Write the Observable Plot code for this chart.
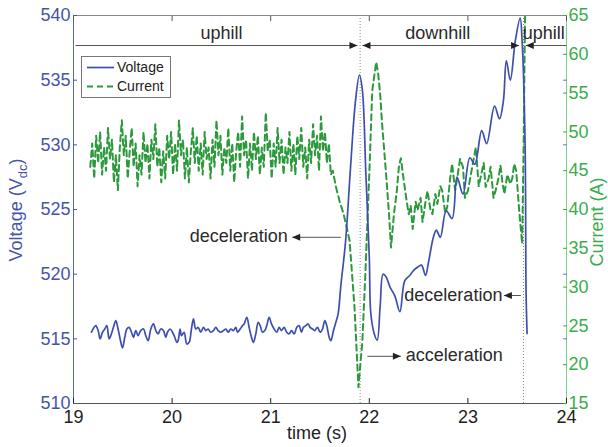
<!DOCTYPE html>
<html><head><meta charset="utf-8">
<script src="https://cdn.jsdelivr.net/npm/d3@7"></script>
<script src="https://cdn.jsdelivr.net/npm/@observablehq/plot@0.6"></script>
<style>
body{margin:0;background:#fff;font-family:"Liberation Sans",Arial,sans-serif;}
#wrap{position:relative;width:608px;height:447px;overflow:hidden;}
.rot{position:absolute;white-space:nowrap;transform:translate(-50%,-50%) rotate(-90deg);font-size:18px;}
#legend{position:absolute;left:81px;top:56px;width:88px;height:40px;border:1px solid #777;background:#fff;font-size:14px;color:#222;}
#legend div{position:absolute;left:35px;}
#legend svg{position:absolute;left:0;top:0;}
#xlab{position:absolute;left:317px;top:433px;transform:translate(-50%,-50%);font-size:18px;color:#222;white-space:nowrap;}
</style></head><body><div id="wrap"></div>
<script>
// ---- data ----
const voltageTime = [19.182,19.209,19.226,19.250,19.270,19.294,19.317,19.338,19.361,19.378,19.405,19.429,19.452,19.473,19.497,19.520,19.541,19.564,19.588,19.608,19.632,19.655,19.682,19.710,19.733,19.757,19.784,19.811,19.835,19.858,19.885,19.912,19.936,19.953,19.980,20.004,20.027,20.048,20.061,20.081,20.095,20.122,20.149,20.173,20.196,20.217,20.240,20.264,20.291,20.318,20.342,20.365,20.392,20.420,20.443,20.467,20.494,20.521,20.545,20.568,20.595,20.622,20.646,20.663,20.690,20.714,20.730,20.758,20.781,20.805,20.825,20.849,20.873,20.893,20.917,20.940,20.960,20.984,21.008,21.035,21.062,21.085,21.109,21.136,21.162,21.187,21.211,21.238,21.265,21.288,21.312,21.332,21.356,21.380,21.400,21.424,21.447,21.474,21.501,21.525,21.549,21.569,21.593,21.610,21.637,21.661,21.684,21.71,21.76,21.81,21.86,21.90,21.93,21.965,22.00,22.015,22.05,22.08,22.11,22.14,22.17,22.21,22.26,22.31,22.36,22.41,22.45,22.50,22.53,22.57,22.60,22.65,22.68,22.72,22.78,22.84,22.89,22.95,23.02,23.07,23.14,23.19,23.27,23.32,23.36,23.39,23.43,23.48,23.53,23.55,23.58,23.59,23.60];
const voltageValue = [515.51,515.89,516.02,515.64,514.99,515.51,515.76,516.02,514.99,515.25,515.89,516.41,515.76,514.99,514.30,515.12,515.76,515.89,515.51,515.12,515.64,515.25,515.64,515.76,515.25,514.86,515.76,516.15,515.64,515.38,515.76,515.64,515.12,515.51,515.76,515.51,515.12,514.73,514.86,515.76,515.25,515.51,514.60,514.73,515.76,516.54,515.76,515.89,515.51,515.89,515.64,515.76,515.51,515.64,515.89,515.64,515.51,515.64,515.76,515.51,515.76,515.64,515.89,515.51,515.76,516.02,516.15,516.67,515.89,515.12,514.73,515.38,516.28,516.02,515.51,515.64,516.02,516.67,516.15,515.76,515.51,515.89,515.64,515.89,515.51,515.38,515.64,515.38,515.89,516.02,515.51,515.89,516.02,516.15,515.89,515.76,515.64,515.89,515.51,515.76,516.41,516.02,515.12,514.86,515.64,516.28,516.93,519.0,522.6,528.3,533.4,535.4,534.2,527.8,521.3,517.0,515.4,514.9,517.5,520.0,519.8,519.0,518.3,517.1,519.5,519.9,520.3,520.6,520.7,519.9,520.9,522.85,523.4,522.85,524.9,524.3,527.5,526.2,529.0,528.5,531.1,530.1,533.0,532.0,533.4,536.5,535.0,538.0,539.8,538.0,530.1,518.6,515.4];

const currentTime = [19.17,19.19,19.21,19.23,19.25,19.27,19.29,19.31,19.33,19.35,19.37,19.39,19.41,19.43,19.45,19.47,19.49,19.51,19.53,19.55,19.57,19.59,19.61,19.63,19.65,19.67,19.69,19.71,19.73,19.75,19.77,19.79,19.81,19.83,19.85,19.87,19.89,19.91,19.93,19.95,19.97,19.99,20.01,20.03,20.05,20.07,20.09,20.11,20.13,20.15,20.17,20.19,20.21,20.23,20.25,20.27,20.29,20.31,20.33,20.35,20.37,20.39,20.41,20.43,20.45,20.47,20.49,20.51,20.53,20.55,20.57,20.59,20.61,20.63,20.65,20.67,20.69,20.71,20.73,20.75,20.77,20.79,20.81,20.83,20.85,20.87,20.89,20.91,20.93,20.95,20.97,20.99,21.01,21.03,21.05,21.07,21.09,21.11,21.13,21.15,21.17,21.19,21.21,21.23,21.25,21.27,21.29,21.31,21.33,21.35,21.37,21.39,21.41,21.43,21.45,21.47,21.49,21.51,21.53,21.55,21.57,21.59,21.61,21.63,21.66,21.70,21.74,21.80,21.85,21.89,21.93,21.96,22.00,22.03,22.07,22.09,22.11,22.13,22.17,22.20,22.22,22.25,22.28,22.30,22.32,22.35,22.38,22.40,22.42,22.44,22.47,22.49,22.52,22.54,22.57,22.59,22.62,22.64,22.67,22.69,22.72,22.74,22.77,22.79,22.82,22.84,22.87,22.89,22.92,22.95,22.97,23.00,23.03,23.05,23.08,23.11,23.13,23.16,23.18,23.21,23.23,23.26,23.28,23.31,23.33,23.35,23.37,23.40,23.43,23.45,23.47,23.49,23.52,23.55,23.565,23.575,23.58];
const currentValue = [45.5,48.5,44.0,49.5,46.0,50.0,44.5,48.0,45.0,50.5,46.5,49.0,43.5,47.0,42.5,48.0,51.5,47.0,49.5,44.0,47.5,50.5,45.5,48.5,43.0,47.0,44.5,50.0,46.0,48.5,44.0,49.0,46.5,51.0,45.5,48.0,43.5,47.5,44.0,49.5,46.5,50.0,44.5,48.5,45.0,51.5,47.0,49.0,44.0,48.0,43.5,47.5,50.5,46.0,49.5,45.0,48.5,44.5,50.0,46.5,48.0,44.0,49.0,45.5,51.5,47.0,49.5,44.5,48.0,46.0,50.5,45.0,48.5,43.5,47.5,50.0,45.5,52.0,47.0,49.0,44.0,48.5,45.0,50.0,46.5,49.5,44.5,48.0,45.5,52.5,47.5,49.0,44.0,48.5,45.5,50.5,46.0,49.0,44.5,48.0,46.0,50.0,45.0,48.5,44.5,49.5,46.5,50.5,45.5,48.0,44.0,49.0,46.0,51.0,47.0,49.5,45.0,52.0,47.5,50.0,46.0,48.5,44.5,45.0,43.0,41.0,39.4,36.0,27.4,17.1,23.1,31.7,44.6,55.3,59.0,57.5,54.9,51.0,44.6,39.4,35.1,39.4,42.5,45.5,46.6,43.7,41.0,39.4,40.5,37.5,41.0,39.9,41.5,38.4,41.0,42.4,40.0,39.4,42.0,40.7,43.0,42.4,39.5,40.3,44.0,45.9,42.5,43.9,46.5,45.5,41.5,42.4,44.5,45.9,48.0,43.0,44.2,46.0,42.9,44.0,45.5,41.5,42.4,44.0,45.7,43.5,42.0,44.5,43.3,44.0,45.9,45.0,39.9,35.6,48.0,60.0,65.0];

const xTicks = [19,20,21,22,23,24];
const voltageTicks = [510,515,520,525,530,535,540];
const currentTicks = [15,20,25,30,35,40,45,50,55,60,65];

// phase dividers (dotted verticals)
const dividerTime = [21.907, 23.564];

// annotation texts
const annoText = ["uphill","downhill","uphill","deceleration","deceleration","acceleration"];
const annoTime = [20.50, 22.695, 23.77, 21.173, 23.35, 22.37];
const annoVolt = [538.6, 538.6, 538.6, 522.9, 518.35, 513.7];
const annoAnchor = ["middle","middle","middle","end","end","start"];

// arrow shafts
const shaftFrom = [19.02, 21.931, 23.587, 21.218, 23.365, 21.98];
const shaftTo   = [21.880, 23.519, 24.0, 21.711, 23.537, 22.32];
const shaftVolt = [537.68, 537.68, 537.68, 522.85, 518.35, 513.65];
// arrow heads: time, volt, direction (90 = right, -90 = left)
const headTime = [21.880, 21.931, 23.519, 23.587, 21.218, 23.365, 22.32];
const headVolt = [537.68, 537.68, 537.68, 537.68, 522.85, 518.35, 513.65];
const headDir  = [90, -90, 90, -90, -90, -90, 90];

// ---- scales linking ----
const V0 = 510, V1 = 540, C0 = 15, C1 = 65;
const c2v = c => V0 + (c - C0) * (V1 - V0) / (C1 - C0);
const v2c = v => Math.round(C0 + (v - V0) * (C1 - C0) / (V1 - V0));

const voltage = voltageTime.map((t, i) => ({t, v: voltageValue[i]}));
const current = currentTime.map((t, i) => ({t, v: c2v(currentValue[i])}));
const annos = annoText.map((s, i) => ({s, t: annoTime[i], v: annoVolt[i], a: annoAnchor[i]}));
const shafts = shaftFrom.map((x1, i) => ({x1, x2: shaftTo[i], v: shaftVolt[i]}));
const heads = headTime.map((t, i) => ({t, v: headVolt[i], r: headDir[i]}));

const BLUE = "#3e4fae", GREEN = "#2c9a3c", BLUE_T = "#4654ab", GREEN_T = "#3bac4c";
const tri = {draw(ctx, l) { ctx.moveTo(0, -l); ctx.lineTo(3.5, 0); ctx.lineTo(-3.5, 0); ctx.closePath(); }};
const annoMark = anchor => Plot.text(annos.filter(d => d.a === anchor), {x: "t", y: "v", text: "s", textAnchor: anchor, fill: "#2a2a2a", fontSize: 18});

const chart = Plot.plot({
  width: 608, height: 447,
  marginLeft: 73, marginRight: 42, marginTop: 15, marginBottom: 44,
  x: {domain: [19, 24], label: null},
  y: {domain: [510, 540], label: null},
  style: {fontFamily: '"Liberation Sans", Arial, sans-serif', fontSize: "18px", background: "white", overflow: "visible"},
  marks: [
    Plot.ruleY([540], {stroke: "#888"}),
    Plot.ruleY([510], {stroke: "#555"}),
    Plot.ruleX([19], {stroke: "#5a67b8"}),
    Plot.ruleX([24], {stroke: "#7dd08a"}),
    Plot.axisX(xTicks, {anchor: "bottom", tickSize: -5, tickPadding: 12, color: "#222", label: null}),
    Plot.axisX(xTicks, {anchor: "top", tickSize: -5, tickFormat: () => "", color: "#555", label: null}),
    Plot.axisY(voltageTicks, {anchor: "left", tickSize: -4, tickPadding: 7, color: BLUE_T, label: null}),
    Plot.axisY(voltageTicks, {anchor: "right", tickSize: -4, tickFormat: () => "", color: "#6673c0", label: null}),
    Plot.axisY(currentTicks.map(c2v), {anchor: "right", tickSize: -4, tickPadding: 6, tickFormat: v2c, color: GREEN_T, label: null}),
    Plot.ruleX(dividerTime, {stroke: "#888", strokeDasharray: "1,2"}),
    Plot.line(current, {x: "t", y: "v", stroke: GREEN, strokeWidth: 2, strokeDasharray: "6,4"}),
    Plot.line(voltage, {x: "t", y: "v", stroke: BLUE, strokeWidth: 1.7, curve: "catmull-rom"}),
    Plot.link(shafts, {x1: "x1", x2: "x2", y1: "v", y2: "v", stroke: "#555", strokeWidth: 1}),
    Plot.vector(heads, {x: "t", y: "v", rotate: "r", length: 8, anchor: "end", shape: tri, fill: "#222", stroke: "none"}),
    annoMark("middle"),
    annoMark("end"),
    annoMark("start")
  ]
});

const wrap = document.getElementById("wrap");
wrap.appendChild(chart);

// axis titles and legend
const yl = document.createElement("div");
yl.className = "rot"; yl.style.left = "18px"; yl.style.top = "210px"; yl.style.color = BLUE_T;
yl.innerHTML = "Voltage (V<sub style='font-size:13px'>dc</sub>)";
wrap.appendChild(yl);
const yr = document.createElement("div");
yr.className = "rot"; yr.style.left = "597px"; yr.style.top = "222px"; yr.style.color = GREEN_T;
yr.textContent = "Current (A)";
wrap.appendChild(yr);
const xl = document.createElement("div");
xl.id = "xlab"; xl.textContent = "time (s)";
wrap.appendChild(xl);

const lg = document.createElement("div");
lg.id = "legend";
lg.innerHTML = `<svg width="88" height="40"><line x1="5" y1="10.5" x2="32" y2="10.5" stroke="${BLUE}" stroke-width="1.7"/><line x1="5" y1="29.5" x2="32" y2="29.5" stroke="${GREEN}" stroke-width="2" stroke-dasharray="6,4"/></svg><div style="top:2px">Voltage</div><div style="top:21px">Current</div>`;
wrap.appendChild(lg);
</script>
</body></html>
